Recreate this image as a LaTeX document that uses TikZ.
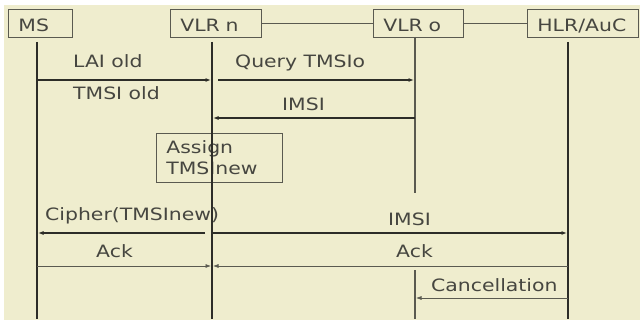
\documentclass[tikz,border=0pt]{standalone}
\usepackage{fontspec}
\setmainfont{DejaVu Sans}[FakeStretch=1.2]
\usetikzlibrary{arrows.meta}
\definecolor{bg}{RGB}{239,237,206}
\definecolor{ink}{RGB}{70,70,64}
\definecolor{boxline}{RGB}{90,90,80}
\definecolor{lifeink}{RGB}{45,45,40}
\begin{document}
\begin{tikzpicture}[x=1pt,y=-1pt,
  font=\fontsize{17}{21}\selectfont,
  entity/.style={draw=boxline, line width=0.8pt, anchor=north west, minimum height=28pt,
    text height=16pt, text depth=0pt, inner xsep=10pt, align=left, text=ink},
  procbox/.style={draw=boxline, line width=0.8pt, anchor=north west, minimum height=49pt,
    inner xsep=10pt, align=left, text=ink, text width=106pt, fill=bg},
  lbl/.style={anchor=base west, inner sep=0pt, text=ink},
  life/.style={draw=lifeink, line width=1.8pt},
  thinlife/.style={draw=boxline, line width=1.2pt},
  conn/.style={draw=boxline, line width=0.9pt},
  msg/.style={draw=lifeink, line width=1.1pt, -{Latex[length=5.5pt,width=4pt]}, shorten >=1pt},
  thinmsg/.style={draw=boxline, line width=0.7pt, -{Latex[length=5.5pt,width=4pt]}, shorten >=1pt}
]
\useasboundingbox (0,0) rectangle (640,323);
\fill[white] (0,0) rectangle (640,323);
\fill[bg] (4,5) rectangle (640,320);

% entities
\node[entity, text width=44pt] (ms) at (8,9) {MS};
\node[entity, text width=71pt] (vn) at (170,9) {VLR n};
\node[entity, text width=70pt] (vo) at (373,9) {VLR o};
\node[entity, text width=91pt] (hlr) at (527,9) {HLR/AuC};

\draw[conn] (vn.east) -- (vo.west);
\draw[conn] (vo.east) -- (hlr.west);

% lifeline coordinates
\coordinate (msT) at (37,42);  \coordinate (msB) at (37,319);
\coordinate (vnT) at (212,42); \coordinate (vnB) at (212,319);
\coordinate (voT) at (415,37); \coordinate (voM) at (415,193);
\coordinate (voR) at (415,270); \coordinate (voB) at (415,319);
\coordinate (hT) at (568,42);  \coordinate (hB) at (568,319);

\draw[life] (msT) -- (msB);
\draw[life] (vnT) -- (vnB);
\draw[life] (hT) -- (hB);
\draw[thinlife] (voT) -- (voM);
\draw[thinlife] (voR) -- (voB);

% processing box
\node[procbox] (assign) at (156,133) {Assign\\TMSInew};
\draw[life] (assign.north -| vnT) -- (assign.south -| vnT);

% messages
\coordinate (q0) at (218,80);
\coordinate (c0) at (205,233);
\draw[msg] (msT |- 0,80) -- (vnT |- 0,80);
\draw[msg] (q0) -- (voT |- 0,80);
\draw[msg] (voT |- 0,118) -- (vnT |- 0,118);
\draw[msg] (c0) -- (msT |- 0,233);
\draw[msg] (vnT |- 0,233) -- (hT |- 0,233);
\draw[thinmsg] (msT |- 0,266) -- (vnT |- 0,266);
\draw[thinmsg] (hT |- 0,266) -- (vnT |- 0,266);
\draw[thinmsg] (hT |- 0,298) -- (voT |- 0,298);

% labels
\node[lbl] (l1) at (73,68) {LAI old};
\node[lbl] (l2) at (73,100) {TMSI old};
\node[lbl] (l3) at (235,68) {Query TMSIo};
\node[lbl] (l4) at (282,111) {IMSI};
\node[lbl] (l5) at (45,221) {Cipher(TMSInew)};
\node[lbl] (l6) at (388,226) {IMSI};
\node[lbl] (l7) at (96,258) {Ack};
\node[lbl] (l8) at (396,258) {Ack};
\node[lbl] (l9) at (431,291) {Cancellation};
\end{tikzpicture}
\end{document}
